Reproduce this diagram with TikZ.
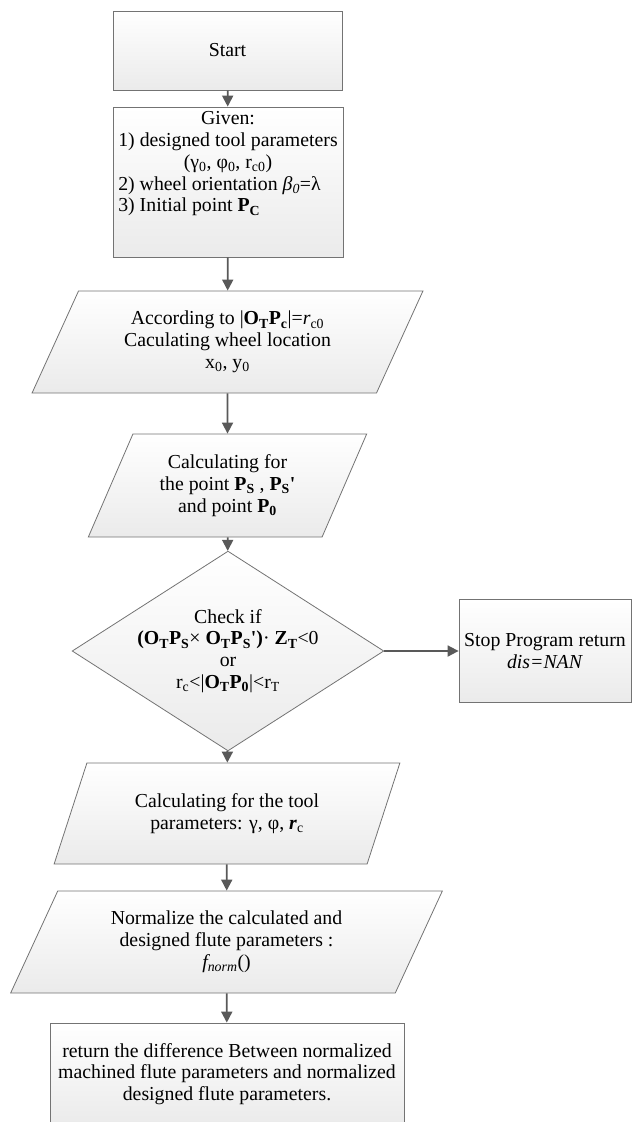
\documentclass[tikz,border=0pt]{standalone}
\usepackage{fontspec}
\setmainfont{Liberation Serif}
\usetikzlibrary{shapes.geometric,arrows.meta}
\newcommand{\bsub}[2]{\textbf{#1\textsubscript{#2}}}

\begin{document}
\begin{tikzpicture}[x=1pt,y=-1pt,
  font=\fontsize{19.8}{21.8}\selectfont,
  shade box/.style={draw=black!55,line width=0.8pt,top color=white,bottom color=black!8,inner sep=2pt},
  procbox/.style={shade box,rectangle,align=center},
  iobox/.style={shade box,trapezium,trapezium left angle=63.4,trapezium right angle=116.6,
    trapezium stretches=true,align=center},
  testbox/.style={shade box,diamond,aspect=1.56,inner sep=0pt,align=center},
  flow/.style={-{Triangle[length=11pt,width=11pt]},line width=1.8pt,draw=black!65}]

  \useasboundingbox (0,0) rectangle (633,1122);

  \node[procbox,minimum width=229,minimum height=79] (start) at (227.5,50.5) {Start};

  \node[procbox,minimum width=230,minimum height=150] (given) at (228,182)
    {\begin{tabular}{@{}l@{}}
      \multicolumn{1}{@{}c@{}}{Given:}\\
      1) designed tool parameters\\
      \multicolumn{1}{@{}c@{}}{(γ\textsubscript{0}, φ\textsubscript{0},  r\textsubscript{c0})}\\
      2) wheel orientation \textit{β\textsubscript{0}}=λ\\
      3) Initial point \bsub{P}{C}\\[36pt]
    \end{tabular}};

  \node[iobox,minimum width=391,minimum height=102] (wheel) at (227.5,342)
    {According to |\bsub{O}{T}\bsub{P}{c}|=\textit{r}\textsubscript{c0}\\
     Caculating wheel location\\
     x\textsubscript{0}, y\textsubscript{0}};

  \node[iobox,minimum width=279,minimum height=103] (points) at (227.5,485.5)
    {Calculating for\\
     the point \bsub{P}{S} , \bsub{P}{S}\textbf{\textquotesingle}\\
     and point \bsub{P}{0}};

  \node[testbox,minimum width=259,minimum height=166] (check) at (228,651)
    {Check if\\
     \textbf{(}\bsub{O}{T}\bsub{P}{S}× \bsub{O}{T}\bsub{P}{S}\textbf{\textquotesingle)}· \bsub{Z}{T}<0\\
     or\\
     r\textsubscript{c}<|\bsub{O}{T}\bsub{P}{0}|<r\textsubscript{T}};

  \node[procbox,minimum width=172,minimum height=103] (stop) at (545,651)
    {Stop Program return\\ \textit{dis=NAN}};

  \node[iobox,minimum width=346,minimum height=101] (toolpar) at (227,813.5)
    {Calculating for the tool\\
     parameters: γ, φ,  \textbf{\textit{r}}\textsubscript{c}};

  \node[iobox,minimum width=433,minimum height=102] (norm) at (226.5,942)
    {Normalize the calculated and\\
     designed flute parameters :\\
     \textit{f\textsubscript{norm}}()};

  \node[procbox,minimum width=354,minimum height=102] (diff) at (227,1074)
    {return the difference Between normalized\\
     machined flute parameters and normalized\\
     designed flute parameters.};

  \draw[flow] (start) -- (given);
  \draw[flow] (given) -- (wheel);
  \draw[flow] (wheel) -- (points);
  \draw[flow] (points) -- (check);
  \draw[flow] (check) -- (stop);
  \draw[flow] (check) -- (toolpar);
  \draw[flow] (toolpar) -- (norm);
  \draw[flow] (norm) -- (diff);
\end{tikzpicture}
\end{document}
